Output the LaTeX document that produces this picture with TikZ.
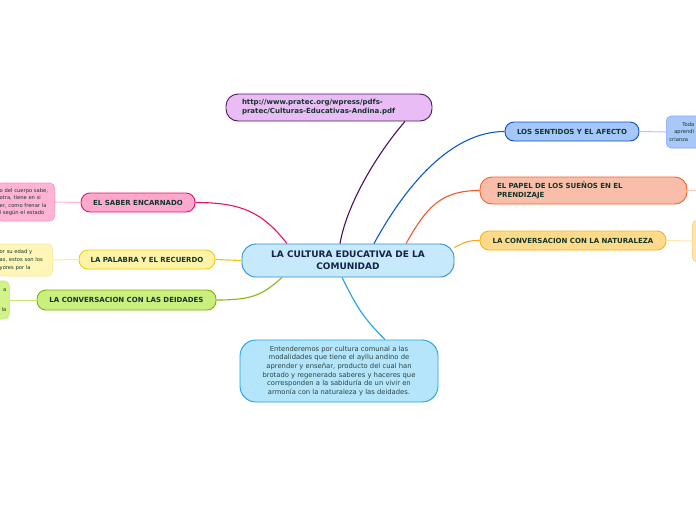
\documentclass[tikz,border=0pt]{standalone}
\usepackage{fontspec}
\setmainfont{DejaVu Sans}
\usetikzlibrary{calc}

\definecolor{txtgreen}{HTML}{12372A}
\definecolor{txtnavy}{HTML}{15234A}
\definecolor{txtdesc}{HTML}{2A4444}
\definecolor{cultF}{HTML}{C6E9FB}
\definecolor{cultD}{HTML}{2F8ED8}
\definecolor{urlF}{HTML}{E9BCF6}
\definecolor{urlD}{HTML}{4A1A5E}
\definecolor{urlL}{HTML}{4A1062}
\definecolor{senF}{HTML}{A4C6F8}
\definecolor{senD}{HTML}{0D4FC0}
\definecolor{senL}{HTML}{0B57D0}
\definecolor{senT}{HTML}{A8C8F8}
\definecolor{papF}{HTML}{F9BEA9}
\definecolor{papD}{HTML}{F2622C}
\definecolor{papL}{HTML}{F2582A}
\definecolor{papT}{HTML}{FBCAB8}
\definecolor{natF}{HTML}{FEDA8A}
\definecolor{natD}{HTML}{F4B41A}
\definecolor{natL}{HTML}{F5A821}
\definecolor{natT}{HTML}{FEE6A8}
\definecolor{sabF}{HTML}{FFA8CF}
\definecolor{sabD}{HTML}{E5106B}
\definecolor{sabT}{HTML}{FFB4D6}
\definecolor{palF}{HTML}{FFF3A8}
\definecolor{palD}{HTML}{ECCD10}
\definecolor{palL}{HTML}{EBCB00}
\definecolor{palT}{HTML}{FFF6B8}
\definecolor{deiF}{HTML}{CBEF7E}
\definecolor{deiD}{HTML}{78B400}
\definecolor{deiL}{HTML}{89B512}
\definecolor{deiT}{HTML}{D2F388}
\definecolor{desF}{HTML}{B5E5FA}
\definecolor{desD}{HTML}{1AA3E6}

\begin{document}
\begin{tikzpicture}[x=1pt,y=-1pt,
  topic/.style={draw,line width=0.9pt,rounded corners=9pt,inner sep=0pt,
    minimum height=19pt,text=txtgreen,align=center,
    font=\fontsize{7}{9}\selectfont\bfseries},
  leaf/.style={draw,line width=0.6pt,rounded corners=5pt,inner xsep=3pt,
    inner ysep=2pt,text=txtgreen,font=\fontsize{5.2}{7.6}\selectfont},
  link/.style={line width=1.1pt},
  twig/.style={line width=1pt}]
 \useasboundingbox (0,0) rectangle (696,520);
 \clip (0,0) rectangle (696,520);
 % centre
 \node[topic,fill=cultF,draw=cultD,minimum width=212pt,minimum height=33pt,
   rounded corners=14pt,text=txtnavy,font=\fontsize{9}{12}\selectfont\bfseries]
   (cult) at (348,260.5) {LA CULTURA EDUCATIVA DE LA\\COMUNIDAD};
 % branches
 \node[topic,fill=urlF,draw=urlD,minimum width=206pt,minimum height=27pt,
   rounded corners=12pt,text width=174pt,align=left] (url) at (329,107.5)
   {http://www.pratec.org/wpress/pdfs-\\pratec/Culturas-Educativas-Andina.pdf};
 \node[topic,fill=senF,draw=senD,minimum width=134pt] (sen) at (572,131.5) {LOS SENTIDOS Y EL AFECTO};
 \node[topic,fill=papF,draw=papD,minimum width=207pt,minimum height=27pt,
   rounded corners=12pt,text width=173pt,align=left] (pap) at (583.5,190.5)
   {EL PAPEL DE LOS SUEÑOS EN EL\\PRENDIZAJE};
 \node[topic,fill=natF,draw=natD,minimum width=186pt] (nat) at (573,240.5) {LA CONVERSACION CON LA NATURALEZA};
 \node[topic,fill=sabF,draw=sabD,minimum width=114pt] (sab) at (138,202.5) {EL SABER ENCARNADO};
 \node[topic,fill=palF,draw=palD,minimum width=136pt] (pal) at (147,259.5) {LA PALABRA Y EL RECUERDO};
 \node[topic,fill=deiF,draw=deiD,minimum width=179pt,minimum height=20pt] (dei) at (126.5,300) {LA CONVERSACION CON LAS DEIDADES};
 \node[draw=desD,fill=desF,line width=0.9pt,rounded corners=16pt,minimum width=198pt,
   minimum height=62pt,align=center,text=txtdesc,font=\fontsize{6.8}{8.6}\selectfont]
   (des) at (339,371) {Entenderemos por cultura comunal a las\\modalidades que tiene el ayllu andino de\\aprender y enseñar, producto del cual han\\brotado y regenerado saberes y haceres que\\corresponden a la sabiduría de un vivir en\\armonía con la naturaleza y las deidades.};
 % leaves (cut by the frame)
 \node[leaf,fill=senT,draw=senT!80!blue,minimum height=32pt,text width=40pt,align=left,
   anchor=west] (senleaf) at (666,132) {\hspace*{13pt}Toda\\\hspace*{5pt}aprendi\\crianza};
 \node[leaf,fill=natT,draw=natD!60,minimum width=30pt,minimum height=42pt,anchor=west] (natleaf) at (692,241) {};
 \coordinate (papleaf) at (700,190);
 \node[leaf,fill=sabT,draw=sabT!80!sabD,minimum height=38pt,text width=52pt,align=left,
   anchor=east] (sableaf) at (55,202) {o del cuerpo sabe,\\otra, tiene en si\\er, como frenar la\\l según el estado};
 \node[leaf,fill=palT,draw=palD!45,minimum height=32pt,text width=50pt,align=left,
   anchor=east] (palleaf) at (53,260) {or su edad y\\as, estos son los\\yores por la};
 \node[leaf,fill=deiT,draw=deiD!45,minimum height=38pt,text width=20pt,align=right,
   anchor=east] (deileaf) at (9.5,300) {a\\[12pt]la};
 % main connectors
 \draw[link,draw=urlL] ($(cult.north)+(-8,0)$) .. controls +(8,-45) and +(-22,25) .. ($(url.south)+(76,0)$);
 \draw[link,draw=senL] ($(cult.north)+(26,0)$) .. controls +(30,-55) and +(-55,0) .. (sen.west);
 \draw[link,draw=papL] ($(cult.north)+(58,0)$) .. controls +(20,-35) and +(-40,0) .. (pap.west);
 \draw[link,draw=natL] ($(cult.east)+(0,-13)$) .. controls +(12,-6) and +(-12,0) .. (nat.west);
 \draw[link,draw=sabD] ($(cult.north)+(-61,0)$) .. controls +(-25,-32) and +(45,0) .. (sab.east);
 \draw[link,draw=palL] (cult.west) -- (pal.east);
 \draw[link,draw=deiL] ($(cult.south)+(-66,0)$) .. controls +(-20,18) and +(35,0) .. (dei.east);
 \draw[link,draw=desD] ($(cult.south)+(-6,0)$) .. controls +(15,30) and +(-22,-22) .. ($(des.north)+(46,0)$);
 % twigs to leaves
 \draw[twig,draw=senT] (sen.east) -- (senleaf.west);
 \draw[twig,draw=papT] (pap.east) -- (papleaf);
 \draw[twig,draw=natT] (nat.east) -- (natleaf.west);
 \draw[twig,draw=sabT] (sab.west) -- (sableaf.east);
 \draw[twig,draw=palT!80!palD] (pal.west) -- (palleaf.east);
 \draw[twig,draw=deiT!80!deiD] (dei.west) -- (deileaf.east);
\end{tikzpicture}
\end{document}
